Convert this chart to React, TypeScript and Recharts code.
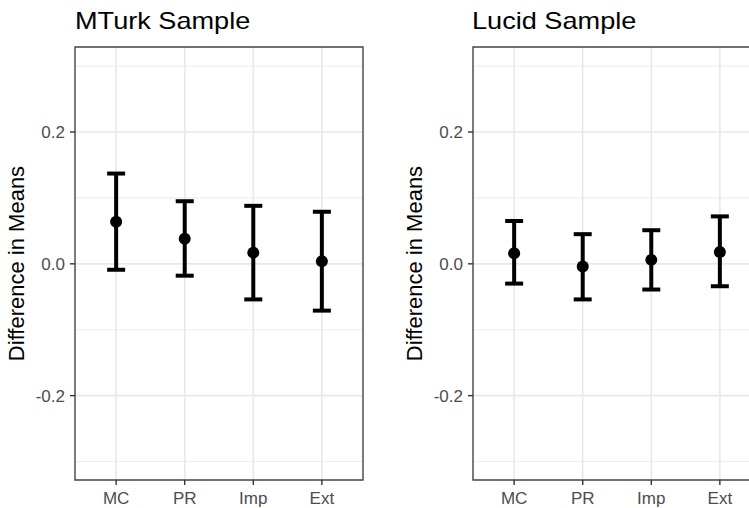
import React from 'react';
import { ScatterChart, Scatter, XAxis, YAxis, CartesianGrid, ErrorBar, ReferenceArea } from 'recharts';

const categories = ['MC', 'PR', 'Imp', 'Ext'];
const mturkMean = [0.064, 0.038, 0.017, 0.004];
const mturkLower = [-0.009, -0.018, -0.054, -0.071];
const mturkUpper = [0.137, 0.095, 0.088, 0.079];
const lucidMean = [0.016, -0.004, 0.006, 0.018];
const lucidLower = [-0.030, -0.054, -0.039, -0.034];
const lucidUpper = [0.065, 0.045, 0.051, 0.072];
const yTicks = [-0.2, 0, 0.2];
const yMinor = [-0.3, -0.1, 0.1, 0.3];
const titles = ['MTurk Sample', 'Lucid Sample'];
const yLabel = 'Difference in Means';

const Y_DOMAIN: [number, number] = [-0.328, 0.329];
const X_DOMAIN: [number, number] = [0.4, 4.6];
const FONT = '"Liberation Sans", Arial, sans-serif';

function build(mean: number[], lower: number[], upper: number[]) {
  return categories.map((c, i) => ({
    x: i + 1,
    y: mean[i],
    err: [mean[i] - lower[i], upper[i] - mean[i]],
  }));
}

const Dot = (p: any) => <circle cx={p.cx} cy={p.cy} r={6} fill="#000" />;

const YLabel = (props: any) => {
  const vb = props.viewBox || { x: 0, y: 47, width: 75, height: 433 };
  const cx = vb.x + 16.5;
  const cy = vb.y + vb.height / 2;
  return (
    <text
      x={cx}
      y={cy}
      transform={`rotate(-90 ${cx} ${cy})`}
      textAnchor="middle"
      dy="0.36em"
      fontFamily={FONT}
      fontSize={22}
      fill="#000"
    >
      {yLabel}
    </text>
  );
};

function Panel({ data }: { data: any[] }) {
  return (
    <ScatterChart width={375} height={508} margin={{ top: 47, right: 12, bottom: 0, left: 0 }}>
      <CartesianGrid
        horizontalValues={yMinor}
        vertical={false}
        stroke="#eeeeee"
        strokeWidth={1.1}
      />
      <CartesianGrid
        horizontalValues={yTicks}
        verticalValues={[1, 2, 3, 4]}
        stroke="#e8e8e8"
        strokeWidth={1.6}
      />
      <XAxis
        dataKey="x"
        type="number"
        domain={X_DOMAIN}
        ticks={[1, 2, 3, 4]}
        tickFormatter={(v: number) => categories[v - 1]}
        height={28}
        axisLine={false}
        tickSize={5}
        tickMargin={7}
        tickLine={{ stroke: '#333', strokeWidth: 1.4 }}
        tick={{ fill: '#4d4d4d', fontSize: 17, fontFamily: FONT }}
        allowDataOverflow
      />
      <YAxis
        dataKey="y"
        type="number"
        domain={Y_DOMAIN}
        ticks={yTicks}
        tickFormatter={(v: number) => v.toFixed(1)}
        width={75}
        axisLine={false}
        tickSize={5}
        tickMargin={5}
        tickLine={{ stroke: '#333', strokeWidth: 1.4 }}
        tick={{ fill: '#4d4d4d', fontSize: 17, fontFamily: FONT }}
        label={{ content: YLabel }}
        allowDataOverflow
      />
      <ReferenceArea
        x1={X_DOMAIN[0]}
        x2={X_DOMAIN[1]}
        y1={Y_DOMAIN[0]}
        y2={Y_DOMAIN[1]}
        fill="none"
        fillOpacity={0}
        stroke="#444"
        strokeWidth={1.4}
        ifOverflow="visible"
      />
      <Scatter data={data} dataKey="y" fill="#000" shape={Dot} isAnimationActive={false}>
        <ErrorBar dataKey="err" direction="y" width={9} strokeWidth={4} stroke="#000" isAnimationActive={false} />
      </Scatter>
    </ScatterChart>
  );
}

const titleStyle = (left: number): React.CSSProperties => ({
  position: 'absolute',
  left,
  top: 9,
  fontFamily: FONT,
  fontSize: 24,
  lineHeight: '24px',
  color: '#000',
  transform: 'scaleX(1.13)',
  transformOrigin: 'left top',
  whiteSpace: 'nowrap',
});

export default function App() {
  const mturk = build(mturkMean, mturkLower, mturkUpper);
  const lucid = build(lucidMean, lucidLower, lucidUpper);
  return (
    <div
      style={{
        position: 'absolute',
        left: 0,
        top: 0,
        width: 749,
        height: 508,
        overflow: 'hidden',
        background: '#fff',
      }}
    >
      <div style={{ position: 'absolute', left: 0, top: 0 }}>
        <Panel data={mturk} />
      </div>
      <div style={{ position: 'absolute', left: 398, top: 0 }}>
        <Panel data={lucid} />
      </div>
      <div style={titleStyle(75)}>{titles[0]}</div>
      <div style={titleStyle(472)}>{titles[1]}</div>
    </div>
  );
}
